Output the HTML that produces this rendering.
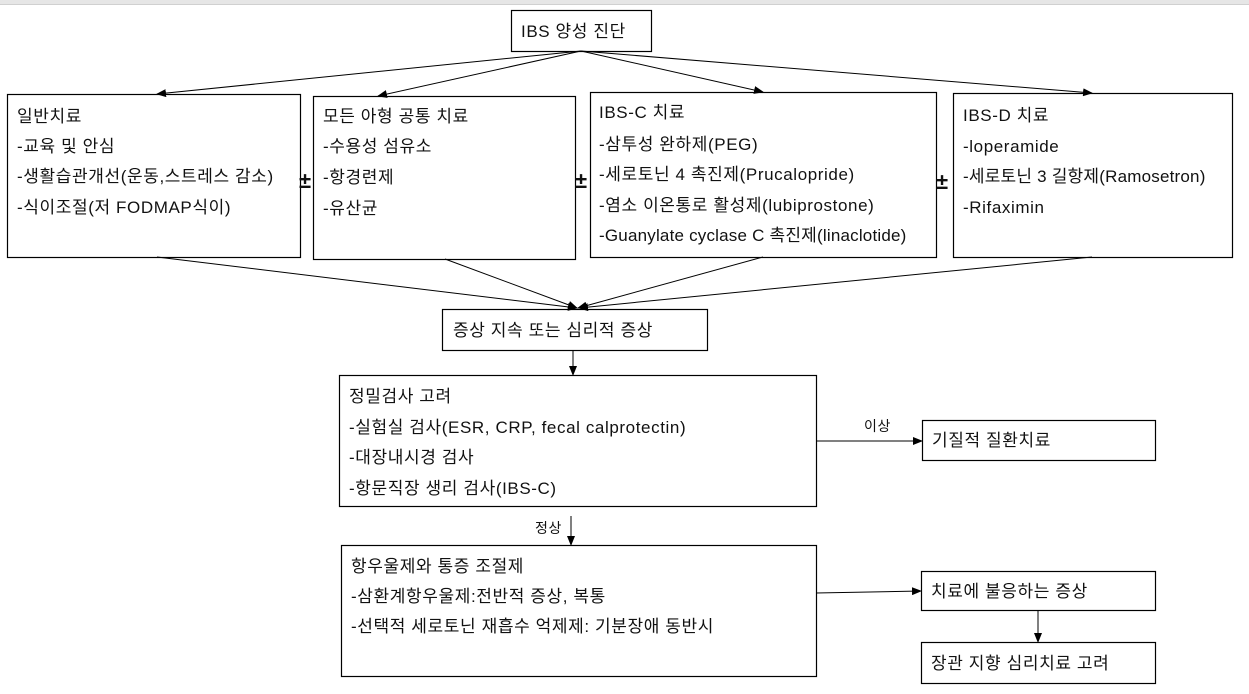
<!DOCTYPE html>
<html><head><meta charset="utf-8"><style>
html,body{margin:0;padding:0;background:#fff;width:1249px;height:694px;overflow:hidden}
svg text{font-family:"Liberation Sans","Noto Sans CJK KR",sans-serif;font-size:17px;letter-spacing:0.6px;fill:#111}
</style></head><body>
<svg width="1249" height="694" viewBox="0 0 1249 694" xmlns="http://www.w3.org/2000/svg">
<defs><marker id="a" markerWidth="10" markerHeight="8" refX="9" refY="4" orient="auto" markerUnits="userSpaceOnUse"><path d="M0,0 L10,4 L0,8 z" fill="#000"/></marker></defs>
<rect x="0" y="0" width="1249" height="4" fill="#e6e6e6"/>
<line x1="0" y1="4.5" x2="1249" y2="4.5" stroke="#d0d0d0"/>
<g fill="none" stroke="#000" stroke-width="1.2">
<rect x="511.5" y="10.5" width="140" height="41"/>
<rect x="7.5" y="94.5" width="293" height="163"/>
<rect x="313.5" y="96.5" width="262" height="163"/>
<rect x="590.5" y="92.5" width="346" height="165"/>
<rect x="953.5" y="93.5" width="279" height="164"/>
<rect x="442.5" y="309.5" width="265" height="41"/>
<rect x="339.5" y="375.5" width="477" height="131"/>
<rect x="922.5" y="420.5" width="233" height="40"/>
<rect x="341.5" y="545.5" width="475" height="131"/>
<rect x="921.5" y="571.5" width="234" height="39"/>
<rect x="921.5" y="642.5" width="234" height="41"/>
</g>
<g stroke="#000" stroke-width="1" marker-end="url(#a)">
<line x1="581" y1="51" x2="157" y2="94"/>
<line x1="581" y1="51" x2="378" y2="96"/>
<line x1="581" y1="51" x2="763" y2="92"/>
<line x1="581" y1="51" x2="1092" y2="93"/>
<line x1="157" y1="257" x2="577" y2="308"/>
<line x1="445" y1="259" x2="577" y2="308"/>
<line x1="763" y1="257" x2="578" y2="308"/>
<line x1="1092" y1="257" x2="579" y2="308"/>
<line x1="573" y1="350" x2="573" y2="375"/>
<line x1="816" y1="441" x2="922" y2="441"/>
<line x1="571" y1="516" x2="571" y2="545"/>
<line x1="816" y1="593" x2="921" y2="591"/>
<line x1="1038" y1="610" x2="1038" y2="642"/>
</g>
<text x="521" y="37">IBS 양성 진단</text>
<text x="17" y="122">일반치료</text>
<text x="17" y="152">-교육 및 안심</text>
<text x="17" y="182">-생활습관개선(운동,스트레스 감소)</text>
<text x="17" y="213">-식이조절(저 FODMAP식이)</text>
<text x="323" y="122">모든 아형 공통 치료</text>
<text x="323" y="152">-수용성 섬유소</text>
<text x="323" y="183">-항경련제</text>
<text x="323" y="214">-유산균</text>
<text x="599" y="118">IBS-C 치료</text>
<text x="599" y="150">-삼투성 완하제(PEG)</text>
<text x="599" y="180">-세로토닌 4 촉진제(Prucalopride)</text>
<text x="599" y="211">-염소 이온통로 활성제(lubiprostone)</text>
<text x="599" y="241" style="letter-spacing:0.2px">-Guanylate cyclase C  촉진제(linaclotide)</text>
<text x="963" y="121">IBS-D 치료</text>
<text x="963" y="152">-loperamide</text>
<text x="963" y="182" style="letter-spacing:0.2px">-세로토닌 3 길항제(Ramosetron)</text>
<text x="963" y="213">-Rifaximin</text>
<text x="299" y="188" style="font-size:22px;font-weight:bold">±</text>
<text x="575" y="188" style="font-size:22px;font-weight:bold">±</text>
<text x="936" y="189" style="font-size:22px;font-weight:bold">±</text>
<text x="453" y="336">증상 지속 또는 심리적 증상</text>
<text x="349" y="402">정밀검사 고려</text>
<text x="349" y="433">-실험실 검사(ESR, CRP, fecal calprotectin)</text>
<text x="349" y="463">-대장내시경 검사</text>
<text x="349" y="494">-항문직장 생리 검사(IBS-C)</text>
<text x="864" y="431" style="font-size:14px">이상</text>
<text x="932" y="446">기질적 질환치료</text>
<text x="535" y="533" style="font-size:14px">정상</text>
<text x="351" y="572">항우울제와 통증 조절제</text>
<text x="351" y="602">-삼환계항우울제:전반적 증상, 복통</text>
<text x="351" y="632">-선택적 세로토닌 재흡수 억제제: 기분장애 동반시</text>
<text x="931" y="597">치료에 불응하는 증상</text>
<text x="931" y="669">장관 지향 심리치료 고려</text>
</svg>
</body></html>
